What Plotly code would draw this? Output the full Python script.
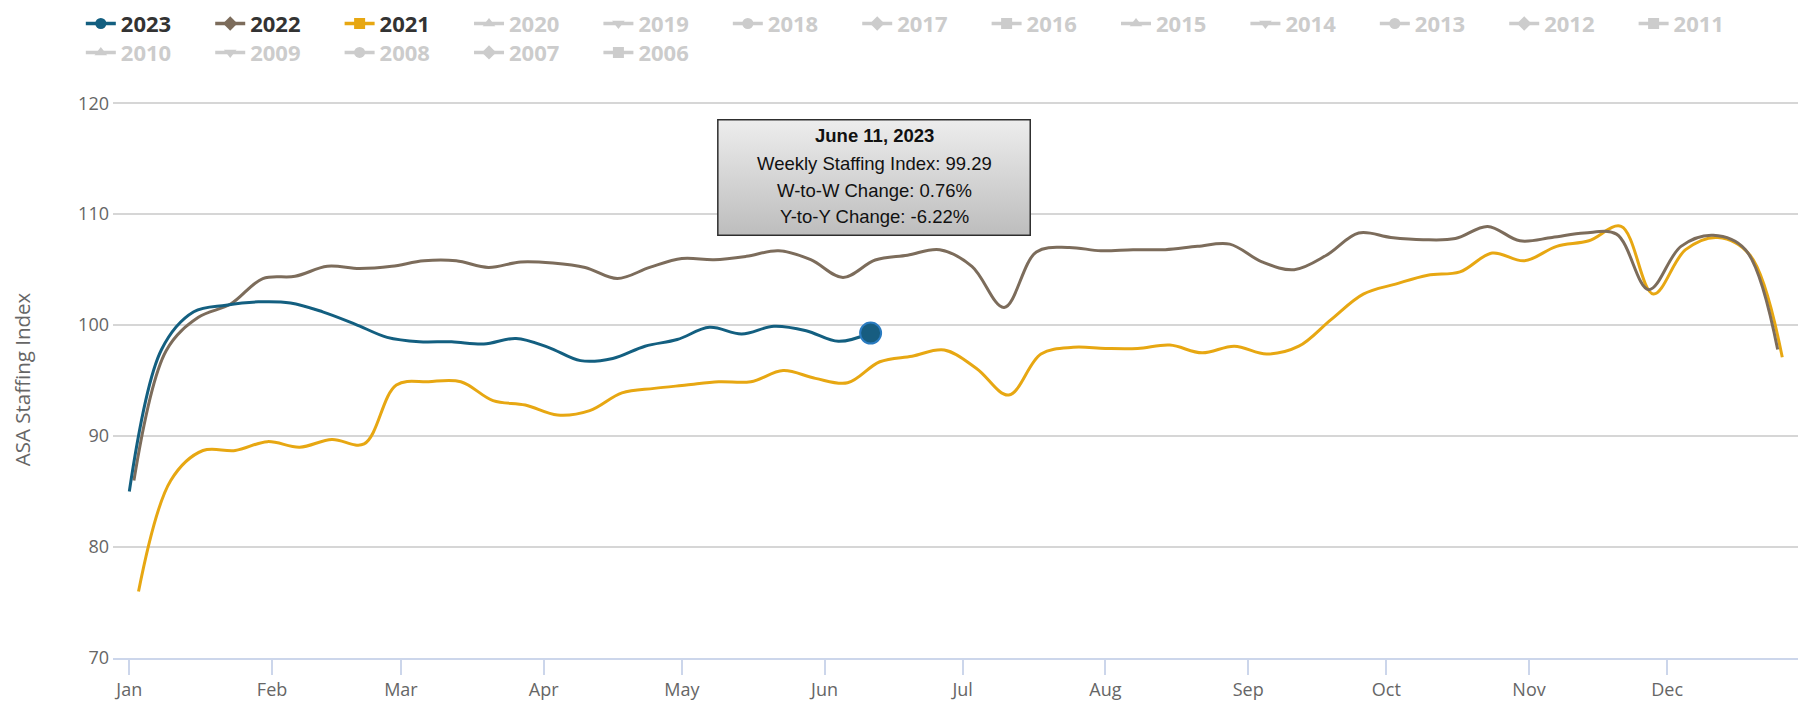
import base64
import pandas as pd
import plotly.graph_objects as go

# ---------------- data ----------------
years_row1 = ["2020", "2019", "2018", "2017", "2016", "2015", "2014", "2013", "2012", "2011"]
years_row2 = ["2010", "2009", "2008", "2007", "2006"]
symbol_cycle = ["circle", "diamond", "square", "triangle-up", "triangle-down"]

start_2023 = "2023-01-01"
start_2022 = "2022-01-02"
start_2021 = "2021-01-03"

v2023 = [85.0, 97.8, 101.2, 101.8, 102.1, 102.0, 101.2, 100.1, 98.9, 98.5,
         98.5, 98.3, 98.8, 98.0, 96.8, 97.0, 98.1, 98.7, 99.8, 99.2,
         99.9, 99.5, 98.54, 99.29]

v2022 = [86.0, 97.7, 100.7, 101.9, 104.2, 104.4, 105.3, 105.1, 105.3, 105.8,
         105.8, 105.2, 105.7, 105.6, 105.2, 104.2, 105.2, 106.0, 105.9, 106.2,
         106.7, 105.9, 104.3, 105.87, 106.3, 106.8, 105.3, 101.6, 106.6, 107.0,
         106.7, 106.8, 106.8, 107.1, 107.3, 105.7, 105.0, 106.3, 108.3, 107.9,
         107.7, 107.8, 108.9, 107.6, 107.9, 108.3, 108.2, 103.2, 107.1, 108.1,
         106.8, 97.8]

v2021 = [76.0, 86.0, 88.7, 88.7, 89.5, 89.0, 89.7, 89.3, 94.6, 94.9,
         94.9, 93.2, 92.8, 91.9, 92.3, 93.9, 94.3, 94.6, 94.9, 94.9,
         95.9, 95.2, 94.8, 96.7, 97.2, 97.75, 96.1, 93.7, 97.4, 98.0,
         97.9, 97.9, 98.2, 97.5, 98.1, 97.4, 98.1, 100.5, 102.8, 103.7,
         104.5, 104.8, 106.5, 105.8, 107.1, 107.6, 108.9, 102.8, 106.8, 107.9,
         106.3, 97.1]

y_ticks = [70, 80, 90, 100, 110, 120]

# ---------------- helpers ----------------
def weekly(start, n):
    d = pd.date_range(start, periods=n, freq="7D")
    # all years share one Jan-Dec axis
    return [x.replace(year=2023) for x in d]

d2023 = pd.date_range(start_2023, periods=len(v2023), freq="7D")
d2022 = weekly(start_2022, len(v2022))
d2021 = weekly(start_2021, len(v2021))

C2023 = "#135f80"
C2022 = "#7c6c5b"
C2021 = "#e7a712"
GREY = "#cccccc"

fig = go.Figure()

# legend entries
legend_items = [("2023", C2023, True, "legend"), ("2022", C2022, True, "legend"),
                ("2021", C2021, True, "legend")] + \
               [(y, GREY, False, "legend") for y in years_row1] + \
               [(y, GREY, False, "legend2") for y in years_row2]
for i, (name, col, active, lg) in enumerate(legend_items):
    label = name if active else f'<span style="color:{GREY}">{name}</span>'
    fig.add_trace(go.Scatter(
        x=[None], y=[None], mode="lines+markers", name=label,
        legendgroup=name, legend=lg,
        line=dict(color=col, width=3.5),
        marker=dict(symbol=symbol_cycle[i % 5], size=11, color=col),
    ))

# data lines
for name, dates, vals, col in [("2021", d2021, v2021, C2021),
                               ("2022", d2022, v2022, C2022),
                               ("2023", d2023, v2023, C2023)]:
    fig.add_trace(go.Scatter(
        x=dates, y=vals, mode="lines", legendgroup=name, showlegend=False,
        line=dict(color=col, width=3, shape="spline", smoothing=1.0),
        hoverinfo="skip",
    ))

# hovered point
fig.add_trace(go.Scatter(
    x=[d2023[-1]], y=[v2023[-1]], mode="markers", showlegend=False,
    marker=dict(size=21, color="#175d80", line=dict(color="#2a7bc0", width=2)),
    hoverinfo="skip",
))

# tooltip box (gradient) + text
svg = ('<svg xmlns="http://www.w3.org/2000/svg" width="314" height="117" '
       'viewBox="0 0 314 117" preserveAspectRatio="none"><defs>'
       '<linearGradient id="g" x1="0" y1="0" x2="0" y2="1">'
       '<stop offset="0" stop-color="#ededed"/><stop offset="1" stop-color="#bdbdbd"/>'
       '</linearGradient></defs>'
       '<rect x="0.75" y="0.75" width="312.5" height="115.5" fill="url(#g)" '
       'stroke="#2e2e2e" stroke-width="1.5"/></svg>')
src = "data:image/svg+xml;base64," + base64.b64encode(svg.encode()).decode()
fig.add_layout_image(dict(source=src, xref="paper", yref="paper",
                          x=0.3585, y=0.9677, sizex=0.1863, sizey=0.2101,
                          xanchor="left", yanchor="top", sizing="stretch",
                          layer="above"))

wtw = (v2023[-1] / v2023[-2] - 1) * 100
yty = (v2023[-1] / v2022[len(v2023) - 1] - 1) * 100
last = d2023[-1]
tip_lines = [f"<b>{last.strftime('%B')} {last.day}, {last.year}</b>",
             f"Weekly Staffing Index: {v2023[-1]:.2f}",
             f"W-to-W Change: {wtw:.2f}%",
             f"Y-to-Y Change: {yty:.2f}%"]
tip_y = [0.9372, 0.8876, 0.8402, 0.7923]
for t, yy in zip(tip_lines, tip_y):
    fig.add_annotation(x=0.4517, y=yy, xref="paper", yref="paper",
                       xanchor="center", yanchor="middle", showarrow=False,
                       text=t, align="center",
                       font=dict(family="Liberation Sans, Arial", size=18.5, color="#111111"))

leg_common = dict(orientation="h", xref="paper", yref="paper",
                  x=-0.0191, xanchor="left", yanchor="top",
                  entrywidth=84.4, itemwidth=30,
                  font=dict(family="Open Sans", size=22, color="#333333", weight="bold"),
                  bgcolor="rgba(0,0,0,0)")

W, H = 1799, 695   # the page adds an 8px body margin before the figure

fig.update_layout(
    width=W, height=H,
    paper_bgcolor="white", plot_bgcolor="white",
    margin=dict(l=105, r=9, t=93, b=45, autoexpand=False),
    font=dict(family="Open Sans", color="#666666", size=18),
    legend=dict(y=1.1765, **leg_common),
    legend2=dict(y=1.1245, **leg_common),
    hovermode=False,
    xaxis=dict(
        type="date",
        range=["2022-12-28 11:00", "2023-12-29 10:00"],
        tick0="2023-01-01", dtick="M1", tickformat="%b",
        ticks="outside", ticklen=15, tickwidth=1.5, tickcolor="#ccd6eb",
        showgrid=False, showline=True, linecolor="#ccd6eb", linewidth=1.5,
        tickfont=dict(size=18, color="#666666"), zeroline=False,
    ),
    yaxis=dict(
        range=[70, 120.2], tickvals=y_ticks,
        showgrid=True, gridcolor="#d6d6d6", gridwidth=2,
        zeroline=False, showline=False, ticks="",
        ticklabelstandoff=3,
        tickfont=dict(size=18, color="#666666"),
        title=dict(text="ASA Staffing Index", standoff=46,
                   font=dict(size=20.5, color="#666666")),
    ),
)

fig.write_html("out.html")
